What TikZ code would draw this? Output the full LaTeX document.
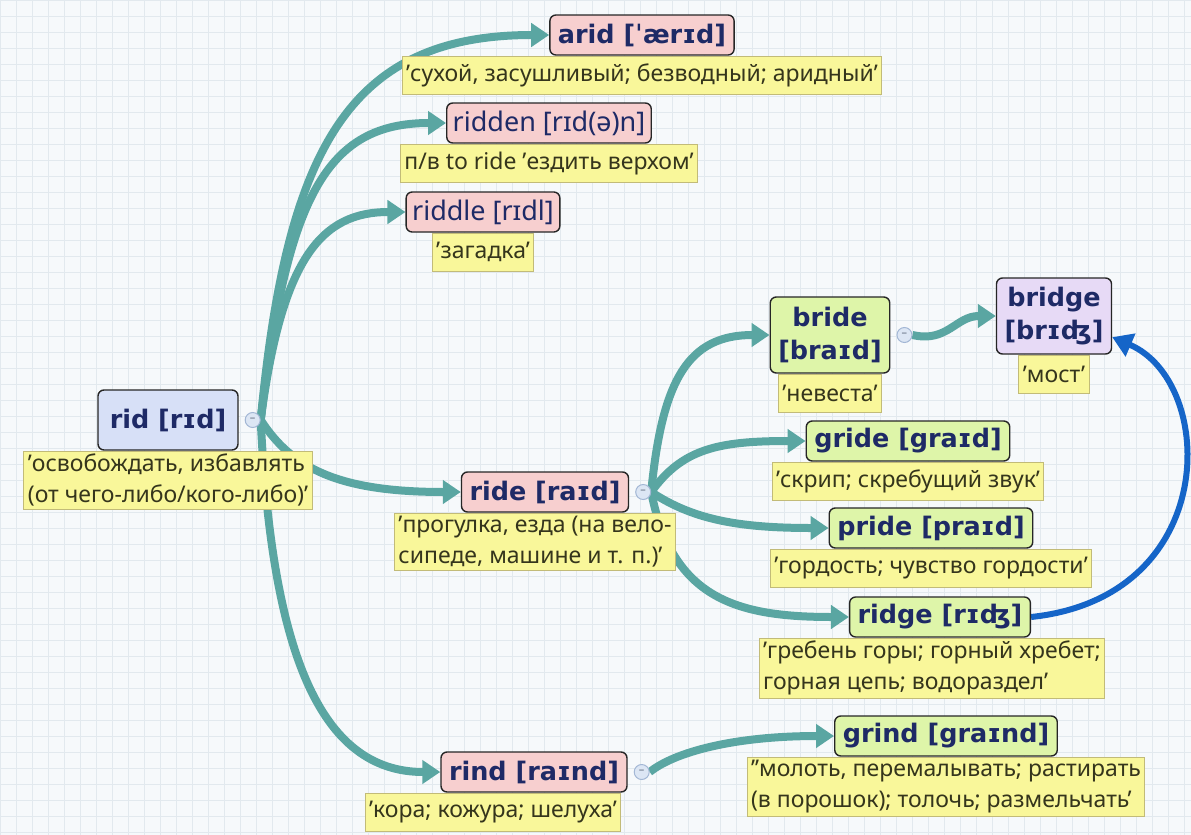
\documentclass[tikz,border=0pt]{standalone}
\usepackage{fontspec}
\setmainfont{Noto Sans}[AutoFakeBold=2.2]
\newfontfamily\headfont{DejaVu Sans}
\usetikzlibrary{positioning,arrows.meta}

\definecolor{linkteal}{HTML}{5AA6A2}
\definecolor{linkblue}{HTML}{1565C8}
\definecolor{headblue}{HTML}{D7E0F7}
\definecolor{headpink}{HTML}{F7CFCF}
\definecolor{headgreen}{HTML}{DEF5A9}
\definecolor{headlilac}{HTML}{E7DAF6}
\definecolor{notefill}{HTML}{F9F79A}
\definecolor{noteline}{HTML}{C2BB78}
\definecolor{headtext}{HTML}{1E2A66}
\definecolor{notetext}{HTML}{35351C}
\definecolor{gridbg}{HTML}{F6F9FB}
\definecolor{gridline}{HTML}{E2E9EE}
\definecolor{togfill}{HTML}{DCE6F4}
\definecolor{togline}{HTML}{A3B7D5}

\pgfdeclarelayer{grid}
\pgfdeclarelayer{links}
\pgfsetlayers{grid,links,main}

\begin{document}
\begin{tikzpicture}[x=1pt,y=-1pt]

    \tikzset{headstyle/.style={draw=black!85,line width=1.4pt,rounded corners=6pt,text=headtext,
        font=\headfont\fontsize{25.5}{29}\selectfont\bfseries,inner xsep=8pt,inner ysep=2pt,minimum height=40pt,align=center},
      tallhead/.style={headstyle,font=\headfont\fontsize{25.5}{33}\selectfont\bfseries,minimum height=76pt},
      plainhead/.style={headstyle,font=\fontsize{27}{29}\selectfont,inner xsep=6pt},
      notestyle/.style={draw=noteline,line width=1pt,fill=notefill,text=notetext,
        font=\fontsize{23}{31}\selectfont,inner xsep=4pt,inner ysep=3pt,minimum height=38pt,align=left},
      togstyle/.style={circle,draw=togline,fill=togfill,line width=1pt,minimum size=15pt,inner sep=0pt,
        text=togline!60!black,font=\fontsize{11}{11}\selectfont}}

    \useasboundingbox (0,0) rectangle (1191,835);
    \begin{pgfonlayer}{grid}
      \fill[gridbg] (0,0) rectangle (1191,835);
      \draw[gridline,line width=0.8pt,step=16pt] (0,0) grid (1191,835);
    \end{pgfonlayer}

    % root
    \node[headstyle,fill=headblue,minimum width=140pt,minimum height=60pt] (rid) at (168,420) {rid [rɪd]};
    \node[notestyle,below=0pt of rid] (ridnote) {’освобождать, избавлять\\(от чего-либо/кого-либо)’};
    \node[togstyle,right=6pt of rid] (ridtog) {--};

    % first level
    \node[headstyle,fill=headpink] (arid) at (642,35) {arid [ˈærɪd]};
    \node[notestyle,below=0pt of arid] (aridnote) {’сухой, засушливый; безводный; аридный’};
    \node[plainhead,fill=headpink] (ridden) at (549,123) {ridden [rɪd(ə)n]};
    \node[notestyle,below=0pt of ridden] (riddennote) {п/в to ride ’ездить верхом’};
    \node[plainhead,fill=headpink] (riddle) at (483,212) {riddle [rɪdl]};
    \node[notestyle,below=0pt of riddle] (riddlenote) {’загадка’};
    \node[headstyle,fill=headpink] (ride) at (545,492) {ride [raɪd]};
    \node[notestyle,below=0pt of ride,xshift=-10pt] (ridenote) {’прогулка, езда (на вело-\\сипеде, машине и т. п.)’};
    \node[togstyle,right=6pt of ride] (ridetog) {--};
    \node[headstyle,fill=headpink] (rind) at (534,772) {rind [raɪnd]};
    \node[notestyle,below=0pt of rind,xshift=-41pt] (rindnote) {’кора; кожура; шелуха’};
    \node[togstyle,right=6pt of rind] (rindtog) {--};

    % second level
    \node[tallhead,fill=headgreen] (bride) at (830,335) {bride\\{[braɪd]}};
    \node[notestyle,below=0pt of bride] (bridenote) {’невеста’};
    \node[togstyle,right=6pt of bride] (bridetog) {--};
    \node[tallhead,fill=headlilac] (bridge) at (1054,316) {bridge\\{[brɪʤ]}};
    \node[notestyle,below=0pt of bridge] (bridgenote) {’мост’};
    \node[headstyle,fill=headgreen] (gride) at (908,441) {gride [graɪd]};
    \node[notestyle,below=0pt of gride] (gridenote) {’скрип; скребущий звук’};
    \node[headstyle,fill=headgreen] (pride) at (931,528) {pride [praɪd]};
    \node[notestyle,below=0pt of pride] (pridenote) {’гордость; чувство гордости’};
    \node[headstyle,fill=headgreen] (ridge) at (940,617) {ridge [rɪʤ]};
    \node[notestyle,below=0pt of ridge,xshift=-8pt] (ridgenote) {’гребень горы; горный хребет;\\горная цепь; водораздел’};
    \node[headstyle,fill=headgreen] (grind) at (946,736) {grind [graɪnd]};
    \node[notestyle,below=0pt of grind] (grindnote) {’’молоть, перемалывать; растирать\\(в порошок); толочь; размельчать’};

    \begin{pgfonlayer}{links}
    \begin{scope}[every path/.style={draw=linkteal,line width=8pt,-{Triangle[length=18pt,width=23pt]}}]
      \draw (ridtog.east) .. controls +(26,-272) and +(-200,0) .. (arid.west);
      \draw (ridtog.east) .. controls +(26,-222) and +(-120,0) .. (ridden.west);
      \draw (ridtog.east) .. controls +(21,-162) and +(-84,0) .. (riddle.west);
      \draw (ridtog.east) .. controls +(31,48) and +(-123,0) .. (ride.west);
      \draw (ridtog.east) .. controls +(11,228) and +(-122,0) .. (rind.west);
      \draw (ridetog.east) .. controls +(11,-113) and +(-81,0) .. (bride.west);
      \draw (ridetog.east) .. controls +(31,-43) and +(-88,0) .. (gride.west);
      \draw (ridetog.east) .. controls +(41,27) and +(-92,0) .. (pride.west);
      \draw (ridetog.east) .. controls +(21,107) and +(-112,0) .. (ridge.west);
      \draw (bridetog.east) .. controls +(35,8) and +(-40,0) .. (bridge.west);
      \draw (rindtog.east) .. controls +(25,-20) and +(-100,0) .. (grind.west);
    \end{scope}
    \draw[linkblue,line width=6pt,-{Triangle[length=20pt,width=24pt]}]
      (ridge.east) .. controls +(190,-20) and +(105,45) .. (bridge.-20);
    \end{pgfonlayer}
\end{tikzpicture}
\end{document}
